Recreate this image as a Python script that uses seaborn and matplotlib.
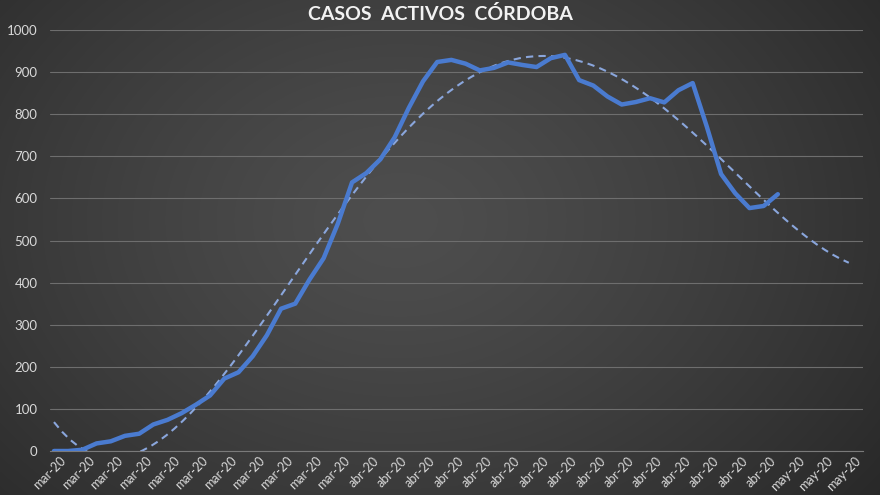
import numpy as np
import pandas as pd
import matplotlib
matplotlib.use('Agg')
import matplotlib.pyplot as plt
import matplotlib.transforms as mtransforms
import seaborn as sns

# casos activos diarios, desde el 11 de marzo
activos = [0, 0, 3, 18, 23, 36, 41, 63, 74, 90,
           110, 132, 172, 187, 225, 275, 338, 350, 407, 458,
           540, 638, 660, 693, 745, 815, 878, 924, 929, 920,
           904, 910, 923, 917, 912, 933, 941, 881, 868, 842,
           823, 829, 838, 828, 857, 874, 770, 658, 612, 577,
           582, 610]
fecha_inicio = '2020-03-11'
dias_pronostico = 5
orden_tendencia = 4
meses = {3: 'mar', 4: 'abr', 5: 'may'}
titulo = 'CASOS  ACTIVOS  CÓRDOBA'
yticks = list(range(0, 1001, 100))

fechas = pd.date_range(fecha_inicio, periods=len(activos) + dias_pronostico)
df = pd.DataFrame({'dia': np.arange(len(activos)), 'activos': activos})

sns.set_theme(style='dark')
plt.rcParams['font.family'] = ['Lato', 'DejaVu Sans']

fig = plt.figure(figsize=(8.8, 4.95), dpi=100)

# fondo gris oscuro con degradado radial
bg = fig.add_axes([0, 0, 1, 1], zorder=0)
yy, xx = np.mgrid[0:495, 0:880]
r = np.sqrt(((xx - 400) / 560.0) ** 2 + ((yy - 220) / 420.0) ** 2)
val = np.clip(78 - 34 * r ** 1.3, 36, 80) / 255.0
bg.imshow(np.dstack([val, val, val]), aspect='auto')
bg.axis('off')

ax = fig.add_axes([50 / 880, 1 - 451 / 495, 813 / 880, 421 / 495], zorder=1)
ax.set_facecolor('none')

# tendencia polinómica, prolongada 5 días
ax.set_xlim(0, len(fechas) - 1)
sns.regplot(data=df, x='dia', y='activos', order=orden_tendencia, ci=None,
            scatter=False, truncate=False, ax=ax,
            line_kws=dict(color='#8aa6dc', lw=1.5, ls=(0, (3.5, 2.5)), zorder=2))

sns.lineplot(data=df, x='dia', y='activos', ax=ax, color='#4a7bd0', lw=3.2,
             solid_capstyle='round', solid_joinstyle='round', zorder=3)

ax.set_xlim(-0.28, 57.0)
ax.set_ylim(0, 1000)
ax.set_xlabel('')
ax.set_ylabel('')

ax.set_yticks(yticks)
ax.set_yticklabels([str(v) for v in yticks])
ax.grid(axis='y', color='#6e6e6e', lw=0.8)
ax.grid(axis='x', visible=False)
for s in ['left', 'right', 'top']:
    ax.spines[s].set_visible(False)
ax.spines['bottom'].set_color('#7a7a7a')
ax.spines['bottom'].set_linewidth(0.8)

xt = list(range(0, len(fechas), 2))
ax.set_xticks(xt)
ax.set_xticklabels([f"{meses[fechas[i].month]}-20" for i in xt],
                   rotation=45, ha='right', rotation_mode='anchor')
ax.tick_params(axis='x', length=3, color='#7a7a7a', direction='out', pad=1,
               labelsize=9, labelcolor='#d9d9d9')
ax.tick_params(axis='y', length=0, pad=9, labelsize=9.5, labelcolor='#d9d9d9')
off = mtransforms.ScaledTranslation(6 / 100, 2 / 100, fig.dpi_scale_trans)
for lab in ax.get_xticklabels():
    lab.set_transform(lab.get_transform() + off)

fig.text(0.5, 1 - 20 / 495, titulo, ha='center', va='baseline', fontsize=14,
         fontweight='bold', color='#f2f2f2')

fig.savefig('out.png', dpi=100)
